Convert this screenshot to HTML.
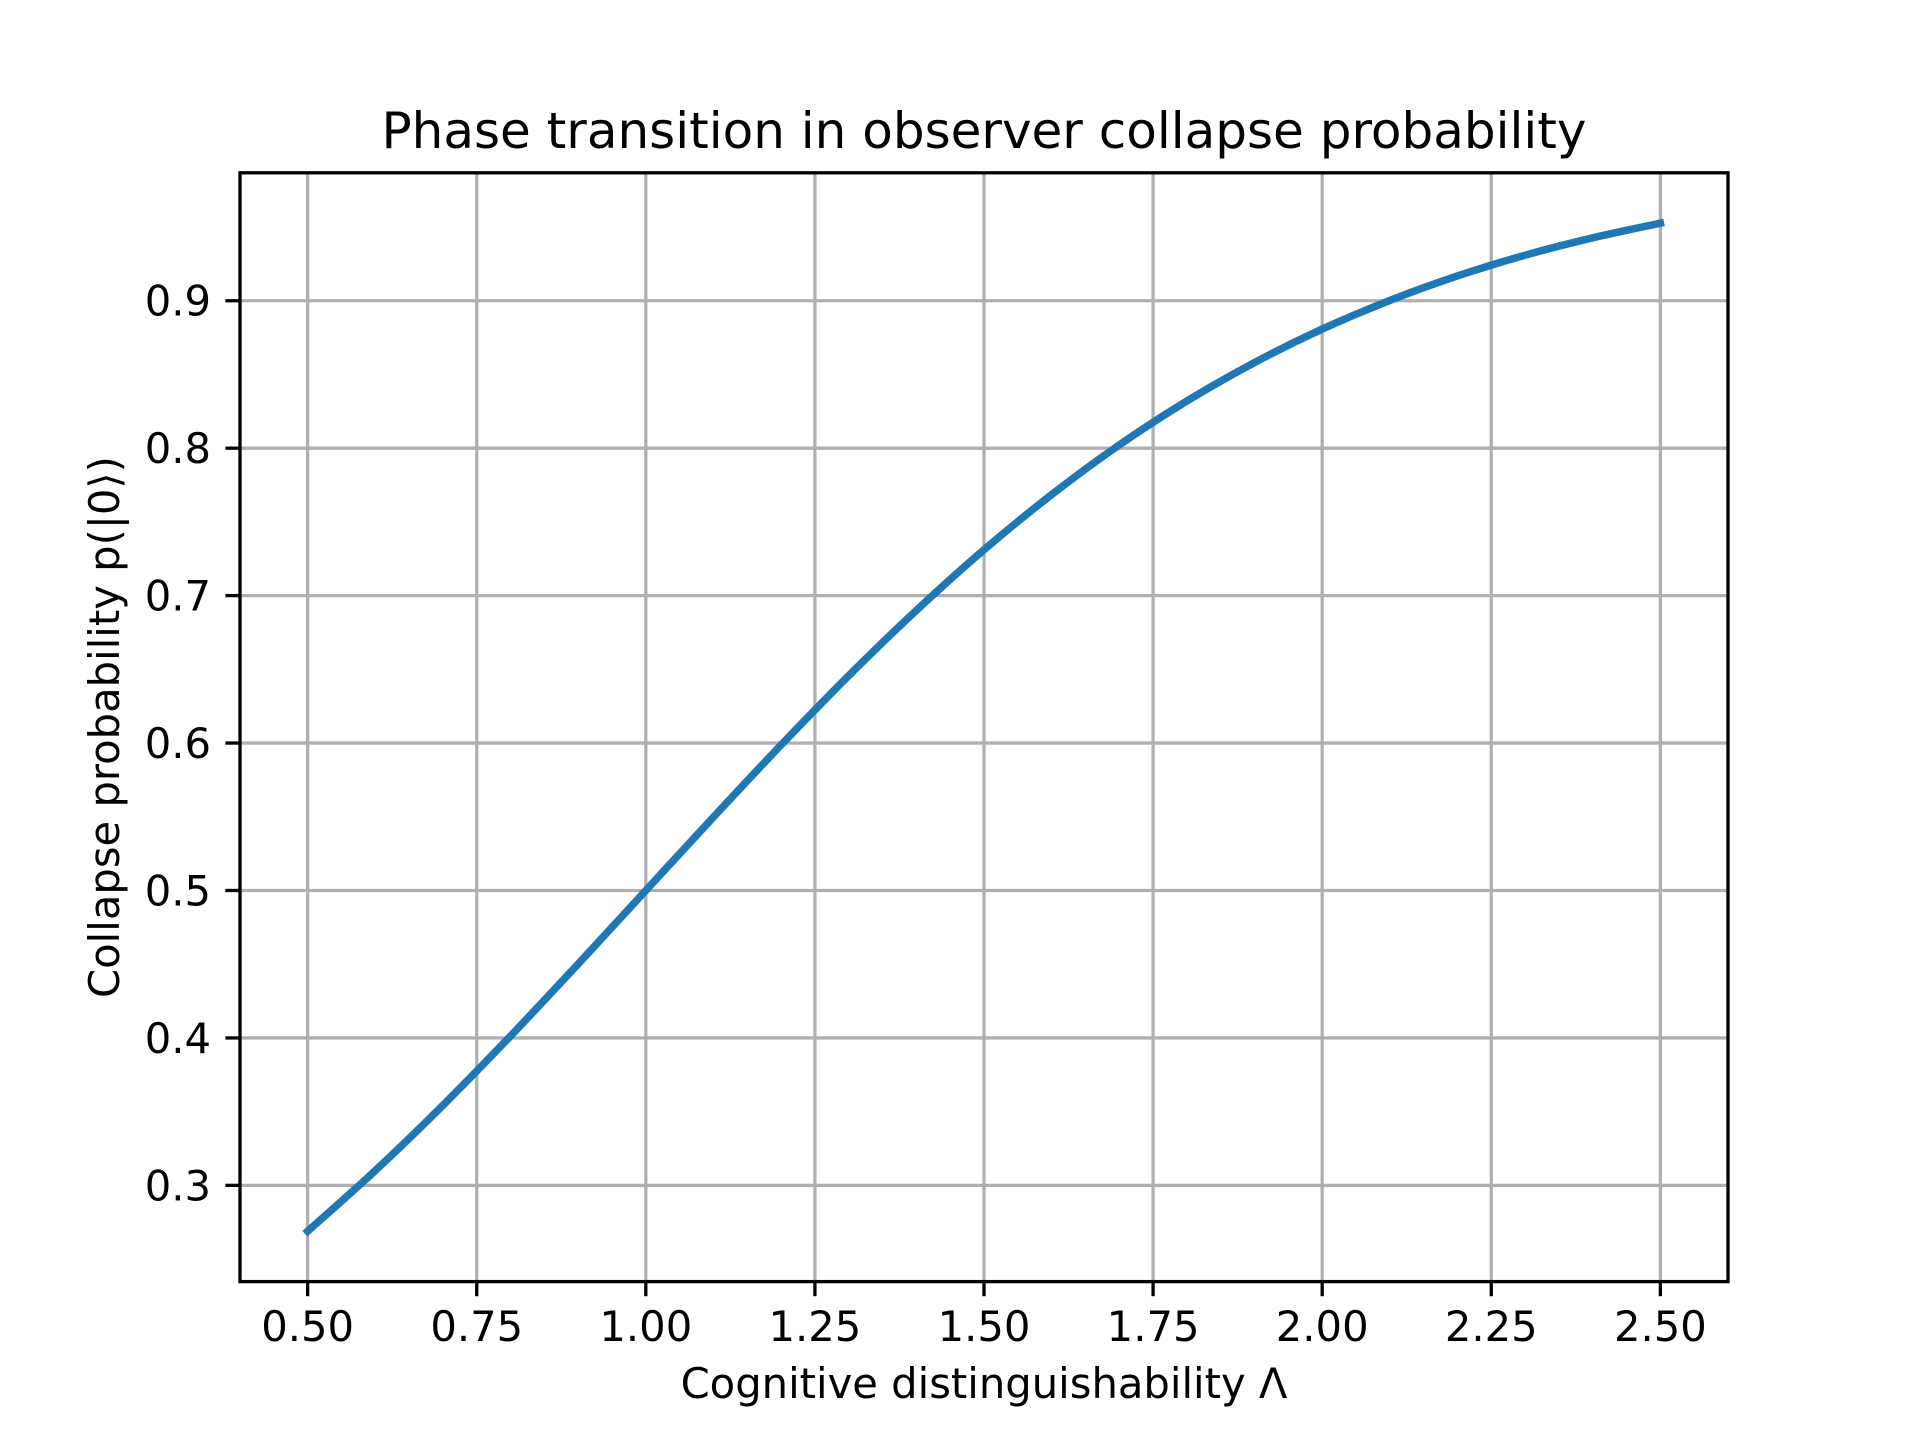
<!DOCTYPE html>
<html><head><meta charset="utf-8"><style>
html,body{margin:0;padding:0;background:#fff;}
svg{display:block;font-family:"DejaVu Sans","Liberation Sans",sans-serif;}
</style></head><body>
<svg id="chart" width="1920" height="1440" viewBox="0 0 1920 1440" xmlns="http://www.w3.org/2000/svg">
<rect width="1920" height="1440" fill="#fff"/>
<g id="grid"></g>
<g id="series"></g>
<rect x="240" y="172.8" width="1488" height="1108.8" fill="none" stroke="#000" stroke-width="3.3"/>
<g id="ticks"></g>
<text x="984" y="148" text-anchor="middle" font-size="50" fill="#000">Phase transition in observer collapse probability</text>
<text x="984" y="1398" text-anchor="middle" font-size="41.7" fill="#000">Cognitive distinguishability Λ</text>
<text x="0" y="0" transform="translate(119,727) rotate(-90)" text-anchor="middle" font-size="41.7" fill="#000">Collapse probability p(|0⟩)</text>
</svg>
<script>
const lambdaValues = [0.5,0.6,0.7,0.8,0.9,1.0,1.1,1.2,1.3,1.4,1.5,1.6,1.7,1.8,1.9,2.0,2.1,2.2,2.3,2.4,2.5];
const probValues = [0.2689,0.3100,0.3543,0.4013,0.4502,0.5000,0.5498,0.5987,0.6457,0.6900,0.7311,0.7685,0.8022,0.8320,0.8581,0.8808,0.9002,0.9168,0.9309,0.9427,0.9526];
const xTicks = [0.5,0.75,1.0,1.25,1.5,1.75,2.0,2.25,2.5];
const xTickLabels = ["0.50","0.75","1.00","1.25","1.50","1.75","2.00","2.25","2.50"];
const yTicks = [0.3,0.4,0.5,0.6,0.7,0.8,0.9];
const yTickLabels = ["0.3","0.4","0.5","0.6","0.7","0.8","0.9"];

const NS = "http://www.w3.org/2000/svg";
const L = 240, R = 1728, T = 172.8, B = 1281.6;
const xmin0 = Math.min(...lambdaValues), xmax0 = Math.max(...lambdaValues);
const ymin0 = Math.min(...probValues), ymax0 = Math.max(...probValues);
const xpad = (xmax0 - xmin0) * 0.05, ypad = (ymax0 - ymin0) * 0.05;
const xMin = xmin0 - xpad, xMax = xmax0 + xpad, yMin = ymin0 - ypad, yMax = ymax0 + ypad;
function xs(v){ return L + (v - xMin) / (xMax - xMin) * (R - L); }
function ys(v){ return B - (v - yMin) / (yMax - yMin) * (B - T); }
function mk(tag, attrs, parent){ const e = document.createElementNS(NS, tag); for (const k in attrs) e.setAttribute(k, attrs[k]); parent.appendChild(e); return e; }
const grid = document.getElementById('grid'), ticks = document.getElementById('ticks'), series = document.getElementById('series');

xTicks.forEach((v, i) => {
  const x = xs(v);
  const g = mk('line', {x1:x, x2:x, y1:T, y2:B, stroke:'#b0b0b0', 'stroke-width':3.3}, grid);
  
  
  const t = mk('line', {x1:x, x2:x, y1:B, y2:B + 14.6, stroke:'#000', 'stroke-width':3.3}, ticks);
  
  
  const lb = mk('text', {x:x, y:1341, 'text-anchor':'middle', 'font-size':41.7, fill:'#000'}, ticks);
  lb.textContent = xTickLabels[i];
  
  
});
yTicks.forEach((v, i) => {
  const y = ys(v);
  const g = mk('line', {x1:L, x2:R, y1:y, y2:y, stroke:'#b0b0b0', 'stroke-width':3.3}, grid);
  
  
  const t = mk('line', {x1:L - 14.6, x2:L, y1:y, y2:y, stroke:'#000', 'stroke-width':3.3}, ticks);
  
  
  const lb = mk('text', {x:211, y:y + 15, 'text-anchor':'end', 'font-size':41.7, fill:'#000'}, ticks);
  lb.textContent = yTickLabels[i];
  
  
});
const pts = lambdaValues.map((v, i) => [xs(v), ys(probValues[i])]);
let d = 'M' + pts[0][0] + ',' + pts[0][1];
for (let i = 0; i < pts.length - 1; i++) {
  const p0 = pts[Math.max(0, i - 1)], p1 = pts[i], p2 = pts[i + 1], p3 = pts[Math.min(pts.length - 1, i + 2)];
  const c1 = [p1[0] + (p2[0] - p0[0]) / 6, p1[1] + (p2[1] - p0[1]) / 6];
  const c2 = [p2[0] - (p3[0] - p1[0]) / 6, p2[1] - (p3[1] - p1[1]) / 6];
  d += ' C' + c1[0] + ',' + c1[1] + ' ' + c2[0] + ',' + c2[1] + ' ' + p2[0] + ',' + p2[1];
}
const line = mk('path', {d:d, fill:'none', stroke:'#1f77b4', 'stroke-width':7.5, 'stroke-linejoin':'round', 'stroke-linecap':'square'}, series);


</script>
</body></html>
